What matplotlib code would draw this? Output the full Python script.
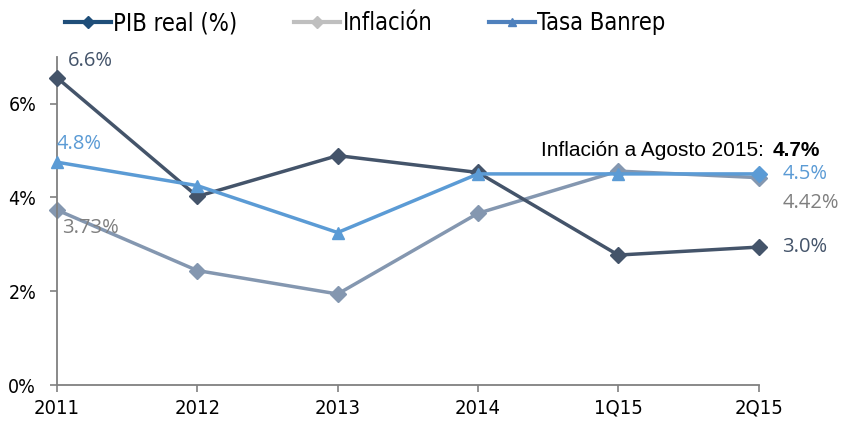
import matplotlib
matplotlib.use("Agg")
import matplotlib.pyplot as plt
from matplotlib.lines import Line2D
from matplotlib import font_manager
from matplotlib.font_manager import FontProperties

cond_file = None
for f in font_manager.fontManager.ttflist:
    if f.name == "DejaVu Sans" and str(f.stretch) in ("condensed", "semi-condensed") and f.style == "normal" and f.weight in (400, "normal"):
        cond_file = f.fname
        break

def narrow_fp(size):
    if cond_file:
        return FontProperties(fname=cond_file, size=size)
    return FontProperties(family="DejaVu Sans", size=size * 0.92)

categories = ["2011", "2012", "2013", "2014", "1Q15", "2Q15"]
pib = [6.55, 4.02, 4.89, 4.53, 2.77, 2.94]
inflacion = [3.73, 2.44, 1.94, 3.66, 4.56, 4.42]
tasa = [4.75, 4.25, 3.25, 4.5, 4.5, 4.5]
yticks = [0, 2, 4, 6]
ytick_labels = ["0%", "2%", "4%", "6%"]

c_pib = "#44546A"
c_inf = "#8497B0"
c_tasa = "#5B9BD5"

fig = plt.figure(figsize=(8.42, 4.21), dpi=100)
ax = fig.add_axes([0.0677, 0.0855, 0.8333, 0.78])
x = list(range(len(categories)))

ax.plot(x, inflacion, color=c_inf, lw=2.5, marker="D", ms=8, zorder=2, clip_on=False)
ax.plot(x, pib, color=c_pib, lw=2.5, marker="D", ms=8, zorder=3, clip_on=False)
ax.plot(x, tasa, color=c_tasa, lw=2.5, zorder=4, clip_on=False)
ax.plot(x[:-1], tasa[:-1], ls="none", color=c_tasa, marker="^", ms=9, zorder=4, clip_on=False)
ax.plot(x[-1:], tasa[-1:], ls="none", color=c_tasa, marker="D", ms=8, zorder=4, clip_on=False)

ax.set_xlim(0, 5)
ax.set_ylim(0, 7)
ax.set_yticks(yticks)
ax.set_yticklabels(ytick_labels)
ax.set_xticks(x)
ax.set_xticklabels(categories)
for t in ax.get_yticklabels():
    t.set_fontproperties(narrow_fp(14))
for t in ax.get_xticklabels():
    t.set_fontproperties(narrow_fp(14.5))
for s in ["top", "right"]:
    ax.spines[s].set_visible(False)
for s in ["left", "bottom"]:
    ax.spines[s].set_color("#808080")
    ax.spines[s].set_linewidth(1.3)
ax.tick_params(axis="both", color="#808080", length=5, width=1.2, direction="out")
ax.tick_params(axis="y", pad=10)
ax.tick_params(axis="x", pad=5)

lab = dict(fontsize=14.5, family="Open Sans")
gray = "#7F7F7F"
ax.annotate("6.6%", (0, pib[0]), xytext=(8, 12), textcoords="offset points", color=c_pib, va="center", ha="left", **lab)
ax.annotate("4.8%", (0, tasa[0]), xytext=(0, 13), textcoords="offset points", color=c_tasa, va="center", ha="left", **lab)
ax.annotate("3.73%", (0, inflacion[0]), xytext=(4, -13), textcoords="offset points", color=gray, va="center", ha="left", **lab)
ax.annotate("4.5%", (5, tasa[5]), xytext=(17, 0), textcoords="offset points", color=c_tasa, va="center", ha="left", **lab)
ax.annotate("4.42%", (5, inflacion[5]), xytext=(17, -18), textcoords="offset points", color=gray, va="center", ha="left", **lab)
ax.annotate("3.0%", (5, pib[5]), xytext=(17, 0), textcoords="offset points", color=c_pib, va="center", ha="left", **lab)

fig.text(0.907, 0.643, "Inflación a Agosto 2015:", fontsize=15, family="Liberation Sans", color="black", va="center", ha="right")
fig.text(0.918, 0.643, "4.7%", fontsize=15, family="Liberation Sans", weight="bold", color="black", va="center", ha="left")

handles = [
    Line2D([], [], color="#1F4E79", lw=3, marker="D", ms=6),
    Line2D([], [], color="#BFBFBF", lw=3, marker="D", ms=6),
    Line2D([], [], color="#4F81BD", lw=3, marker="^", ms=6),
]
fig.legend(handles, ["PIB real (%)", "Inflación", "Tasa Banrep"], loc="center left",
           bbox_to_anchor=(0.077, 0.945), ncol=3, frameon=False, handlelength=1.95,
           handletextpad=0.1, columnspacing=2.4, borderpad=0, borderaxespad=0,
           prop=narrow_fp(17))

fig.savefig("out.png", dpi=100)
